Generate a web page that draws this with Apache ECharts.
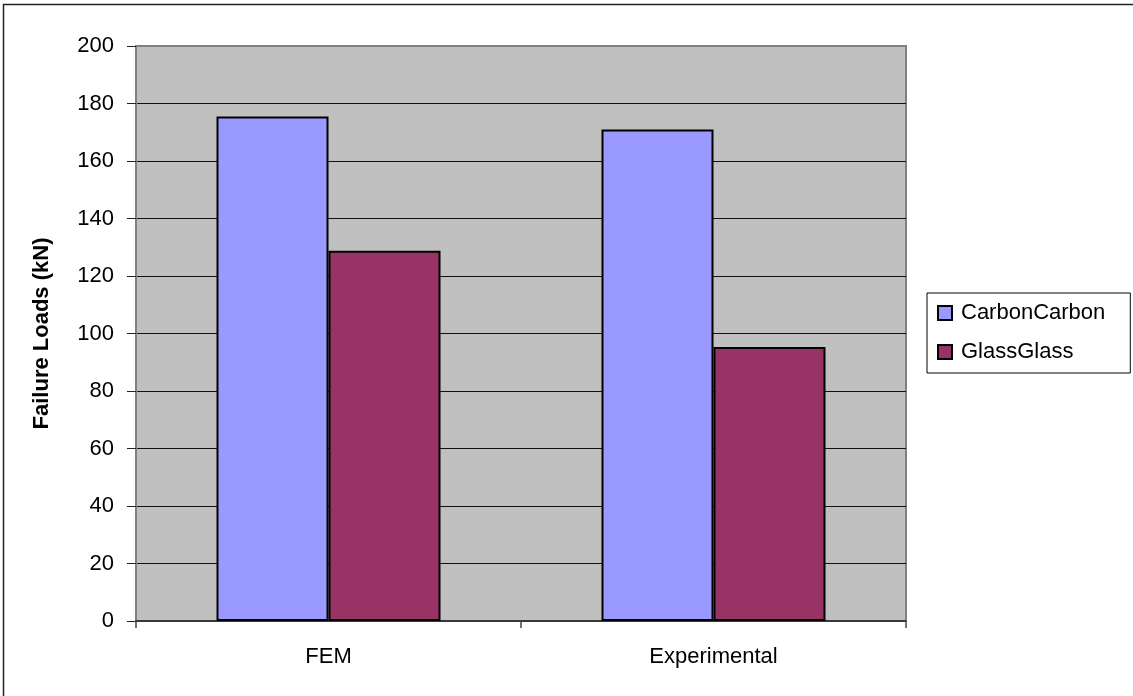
<!DOCTYPE html>
<html>
<head>
<meta charset="utf-8">
<script src="https://cdn.jsdelivr.net/npm/echarts@6/dist/echarts.min.js"></script>
<style>
html,body{margin:0;padding:0;background:#fff;}
#chart{width:1133px;height:696px;}
</style>
</head>
<body>
<div id="chart"></div>
<script>
const categories = ['FEM', 'Experimental'];
const seriesNames = ['CarbonCarbon', 'GlassGlass'];
const carbonValues = [175.5, 171.0];
const glassValues = [128.8, 95.3];
const yTicks = [0, 20, 40, 60, 80, 100, 120, 140, 160, 180, 200];

const font = '"Liberation Sans", Arial, sans-serif';
const chart = echarts.init(document.getElementById('chart'), null, {renderer: 'canvas'});
const splitColors = yTicks.map((v, i) => (i === 0 || i === yTicks.length - 1) ? 'rgba(0,0,0,0)' : '#111');

chart.setOption({
  backgroundColor: '#ffffff',
  animation: false,
  textStyle: {fontFamily: font},
  graphic: [{
    type: 'rect',
    shape: {x: 3.5, y: 4.5, width: 2000, height: 2000},
    style: {fill: 'none', stroke: '#222', lineWidth: 1.5},
    silent: true
  }],
  grid: {
    left: 136, top: 46, right: 227, bottom: 75,
    show: true, backgroundColor: '#C0C0C0', borderColor: '#808080', borderWidth: 2
  },
  legend: {
    orient: 'vertical',
    left: 927, top: 293,
    padding: [9, 25, 10, 10],
    itemGap: 17,
    itemWidth: 14, itemHeight: 14,
    borderColor: '#000', borderWidth: 1,
    backgroundColor: '#fff',
    icon: 'rect',
    data: seriesNames,
    textStyle: {fontSize: 22, color: '#000', fontFamily: font, padding: [0, 0, 0, 4]}
  },
  xAxis: {
    type: 'category',
    data: categories,
    axisLine: {show: true, lineStyle: {color: '#222', width: 1.5}},
    axisTick: {show: true, length: 7, lineStyle: {color: '#444', width: 1.5}},
    axisLabel: {fontSize: 22, color: '#000', margin: 25, fontFamily: font},
    splitLine: {show: false}
  },
  yAxis: {
    type: 'value',
    min: 0, max: 200, interval: 20,
    name: 'Failure Loads (kN)',
    nameLocation: 'middle',
    nameGap: 83,
    nameTextStyle: {fontSize: 22, fontWeight: 'bold', color: '#000', fontFamily: font},
    axisLine: {show: true, lineStyle: {color: '#808080', width: 2}},
    axisTick: {show: true, length: 9, lineStyle: {color: '#222', width: 1}},
    axisLabel: {fontSize: 22, color: '#000', margin: 22, fontFamily: font},
    splitLine: {show: true, lineStyle: {color: splitColors, width: 1}}
  },
  series: [
    {
      name: seriesNames[0], type: 'bar', data: carbonValues,
      barWidth: 112, barGap: '0%',
      itemStyle: {color: '#9999FF', borderColor: '#000', borderWidth: 2}
    },
    {
      name: seriesNames[1], type: 'bar', data: glassValues,
      barWidth: 112, barGap: '0%',
      itemStyle: {color: '#993366', borderColor: '#000', borderWidth: 2}
    }
  ]
});
</script>
</body>
</html>
